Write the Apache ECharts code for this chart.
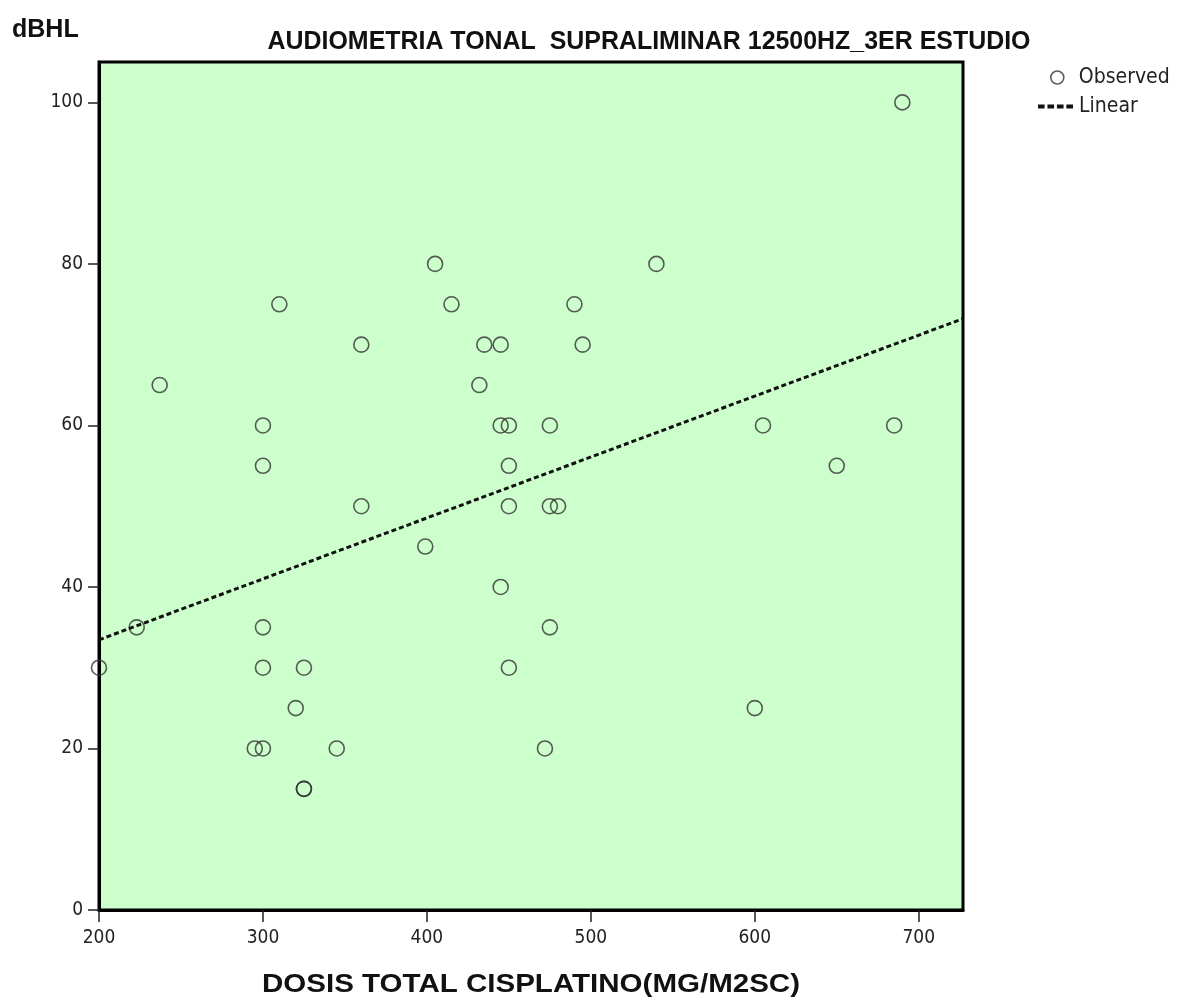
<!DOCTYPE html>
<html>
<head>
<meta charset="utf-8">
<title>Audiometría tonal supraliminar 12500 Hz</title>
<script src="https://cdn.jsdelivr.net/npm/echarts@6/dist/echarts.min.js"></script>
<style>
  html, body { margin: 0; padding: 0; background: #ffffff; }
  #chart { width: 1177px; height: 1002px; }
</style>
</head>
<body>
<div id="chart"></div>
<script>
// Dosis total de cisplatino (mg/m2 SC) por paciente
const dosis = [
  690, 237, 310, 300, 300, 360, 360, 405, 415, 435, 445, 432, 445, 450,
  450, 450, 399, 445, 450, 475, 475, 480, 475, 472, 490, 495, 540, 605,
  650, 685, 600, 223, 200, 300, 300, 325, 320, 295, 300, 345, 325, 325
];
// Umbral supraliminar a 12500 Hz (dBHL), 3er estudio
const umbral = [
  100, 65, 75, 60, 55, 70, 50, 80, 75, 70, 70, 65, 60, 60,
  55, 50, 45, 40, 30, 60, 50, 50, 35, 20, 75, 70, 80, 60,
  55, 60, 25, 35, 30, 35, 30, 30, 25, 20, 20, 20, 15, 15
];
const xTicks = [200, 300, 400, 500, 600, 700];
const yTicks = [0, 20, 40, 60, 80, 100];
const xRange = [200, 727];
const yRange = [0, 105];

const titleText = 'AUDIOMETRIA TONAL  SUPRALIMINAR 12500HZ_3ER ESTUDIO';
const xName = 'DOSIS TOTAL CISPLATINO(MG/M2SC)';
const yName = 'dBHL';

// Least-squares linear fit of the observed points
function linearFit(xs, ys) {
  const n = xs.length;
  const mx = xs.reduce((a, b) => a + b, 0) / n;
  const my = ys.reduce((a, b) => a + b, 0) / n;
  let sxy = 0, sxx = 0;
  for (let i = 0; i < n; i++) {
    sxy += (xs[i] - mx) * (ys[i] - my);
    sxx += (xs[i] - mx) * (xs[i] - mx);
  }
  const b = sxy / sxx;
  return { a: my - b * mx, b: b };
}
const fit = linearFit(dosis, umbral);
const fitLine = xRange.map(x => [x, fit.a + fit.b * x]);
const observed = dosis.map((x, i) => [x, umbral[i]]);

const cond = '"DejaVu Sans Condensed", "Liberation Sans", Arial, sans-serif';
const sans = '"Liberation Sans", Arial, sans-serif';

// Condensed headings: measure the natural width, then squeeze to the target width
const measureCtx = document.createElement('canvas').getContext('2d');
function squeeze(text, font, targetWidth) {
  measureCtx.font = font;
  return targetWidth / measureCtx.measureText(text).width;
}
const titleFont = 'bold 25px "Liberation Sans", Arial, sans-serif';
const xNameFont = 'bold 26px "Liberation Sans", Arial, sans-serif';
const titleScale = squeeze(titleText, titleFont, 763);
const xNameScale = squeeze(xName, xNameFont, 538);

// Dashed legend glyph for the fitted line
const dashIcon = 'path://M0,0h7v4h-7zM10,0h7v4h-7zM20,0h7v4h-7zM30,0h7v4h-7z';

const chart = echarts.init(document.getElementById('chart'), null, { renderer: 'canvas' });
chart.setOption({
  animation: false,
  backgroundColor: '#ffffff',
  title: {
    text: yName,
    left: 7, top: 13,
    textStyle: { fontFamily: sans, fontWeight: 'bold', fontSize: 25, color: '#111' }
  },
  graphic: [
    {
      type: 'text',
      x: 649, y: 42, scaleX: titleScale, scaleY: 1,
      style: {
        text: titleText, font: titleFont, fill: '#111',
        align: 'center', verticalAlign: 'middle'
      }
    },
    {
      type: 'text',
      x: 531, y: 985, scaleX: xNameScale, scaleY: 1,
      style: {
        text: xName, font: xNameFont, fill: '#111',
        align: 'center', verticalAlign: 'middle'
      }
    }
  ],
  legend: [
    {
      left: 1045, top: 62,
      itemWidth: 13, itemHeight: 13, itemGap: 0,
      textStyle: { fontFamily: cond, fontSize: 21, color: '#222', padding: [0, 0, 0, 10] },
      data: [
        { name: 'Observed', icon: 'circle',
          itemStyle: { color: 'rgba(0,0,0,0)', borderColor: '#333', borderWidth: 1.6 } }
      ]
    },
    {
      left: 1033, top: 91,
      itemWidth: 35, itemHeight: 4, itemGap: 0,
      textStyle: { fontFamily: cond, fontSize: 21, color: '#222', padding: [0, 0, 0, 1] },
      data: [
        { name: 'Linear', icon: dashIcon, itemStyle: { color: '#111' } }
      ]
    }
  ],
  grid: {
    left: 99, right: 214, top: 62, bottom: 92,
    show: true,
    backgroundColor: '#ccffcc',
    borderColor: '#000', borderWidth: 3
  },
  xAxis: {
    type: 'value',
    min: xRange[0], max: xRange[1],
    axisLine: { show: true, onZero: false, lineStyle: { color: '#000', width: 3 } },
    axisTick: { show: true, length: 12, customValues: xTicks, lineStyle: { color: '#222', width: 1.5 } },
    axisLabel: { customValues: xTicks, margin: 19, fontFamily: cond, fontSize: 19, color: '#222' },
    splitLine: { show: false }
  },
  yAxis: {
    type: 'value',
    min: yRange[0], max: yRange[1],
    axisLine: { show: true, onZero: false, lineStyle: { color: '#000', width: 3 } },
    axisTick: { show: true, length: 11, customValues: yTicks, lineStyle: { color: '#222', width: 1.5 } },
    axisLabel: { customValues: yTicks, margin: 16, fontFamily: cond, fontSize: 19, color: '#222' },
    splitLine: { show: false }
  },
  series: [
    {
      name: 'Observed',
      type: 'scatter',
      data: observed,
      symbol: 'circle',
      symbolSize: 15,
      clip: true,
      itemStyle: { color: 'rgba(0,0,0,0)', borderColor: '#333', borderWidth: 1.6 }
    },
    {
      name: 'Linear',
      type: 'line',
      data: fitLine,
      symbol: 'none',
      clip: true,
      lineStyle: { color: '#111', width: 3, type: [5, 3] },
      itemStyle: { color: '#111' }
    }
  ]
});
</script>
</body>
</html>
